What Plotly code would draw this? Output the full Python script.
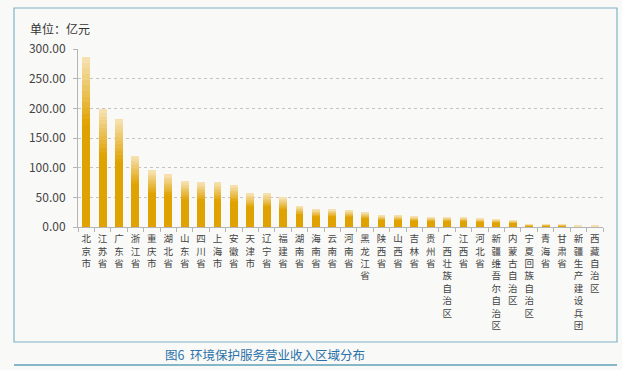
import plotly.graph_objects as go

# ---- data ----
regions = ["北京市", "江苏省", "广东省", "浙江省", "重庆市", "湖北省", "山东省", "四川省",
           "上海市", "安徽省", "天津市", "辽宁省", "福建省", "湖南省", "海南省", "云南省",
           "河南省", "黑龙江省", "陕西省", "山西省", "吉林省", "贵州省", "广西壮族自治区",
           "江西省", "河北省", "新疆维吾尔自治区", "内蒙古自治区", "宁夏回族自治区",
           "青海省", "甘肃省", "新疆生产建设兵团", "西藏自治区"]
revenue = [286.5, 199.5, 182.0, 119.7, 95.5, 88.8, 77.0, 75.3,
           75.3, 70.8, 56.5, 56.3, 50.3, 35.2, 29.7, 29.6,
           28.1, 24.7, 19.7, 19.6, 18.0, 16.3, 16.3,
           16.2, 14.4, 13.0, 11.3, 4.5,
           4.4, 4.3, 1.7, 1.7]
y_ticks = [0, 50, 100, 150, 200, 250, 300]
y_tick_text = ["0.00", "50.00", "100.00", "150.00", "200.00", "250.00", "300.00"]

# ---- styling helpers ----
gold = (224, 162, 0)
light = (247, 227, 182)
solid_frac = 0.60
n_steps = 12

tick_labels = ["<br>".join(list(r)) for r in regions]

fig = go.Figure()
# solid lower part
fig.add_trace(go.Bar(
    x=tick_labels, y=[v * solid_frac for v in revenue],
    marker=dict(color="rgb(%d,%d,%d)" % gold, line=dict(width=0)),
    hoverinfo="skip", showlegend=False))
# gradient upper part
for i in range(n_steps):
    t = (i + 0.5) / n_steps
    c = tuple(round(gold[k] + (light[k] - gold[k]) * t) for k in range(3))
    fig.add_trace(go.Bar(
        x=tick_labels, y=[v * (1 - solid_frac) / n_steps for v in revenue],
        marker=dict(color="rgb(%d,%d,%d)" % c, line=dict(width=0)),
        hoverinfo="skip", showlegend=False))

font_family = "Noto Sans CJK SC, Noto Sans, sans-serif"
label_family = "Liberation Sans, Noto Sans CJK SC, sans-serif"

fig.update_layout(
    width=622, height=370,
    margin=dict(l=78, r=19, t=49, b=143),
    paper_bgcolor="#f9f9f7", plot_bgcolor="#f9f9f7",
    barmode="stack", bargap=0.52,
    font=dict(family=font_family, color="#444444"),
    xaxis=dict(
        type="category", showgrid=False, showline=True, linecolor="#b5b5b5", linewidth=1,
        ticks="outside", ticklen=4, tickcolor="#b5b5b5", tickson="boundaries",
        ticklabelstandoff=3,
        tickfont=dict(size=9.5, color="#444444", family=label_family),
        tickangle=0, fixedrange=True),
    yaxis=dict(
        range=[0, 300], tickvals=y_ticks, ticktext=y_tick_text,
        showgrid=True, gridcolor="#c4c4c4", griddash="3px,3px", gridwidth=1,
        showline=True, linecolor="#b5b5b5", linewidth=1,
        ticks="outside", ticklen=4, tickcolor="#b5b5b5", ticklabelstandoff=5,
        tickfont=dict(size=12, color="#444444", family=font_family),
        zeroline=False, fixedrange=True),
    shapes=[
        dict(type="rect", xref="paper", yref="paper",
             x0=(14 - 78) / 525, x1=(617 - 78) / 525,
             y0=(227 - 342) / 178, y1=(227 - 8) / 178,
             line=dict(color="#7fb3c6", width=1.2), fillcolor="rgba(0,0,0,0)", layer="below"),
        dict(type="line", xref="paper", yref="paper",
             x0=(14 - 78) / 525, x1=(617 - 78) / 525,
             y0=(227 - 365) / 178, y1=(227 - 365) / 178,
             line=dict(color="#5fa0ba", width=1.5)),
    ],
    annotations=[
        dict(text="单位：亿元", xref="paper", yref="paper",
             x=(28 - 78) / 525, y=(227 - 28) / 178, xanchor="left", yanchor="middle",
             showarrow=False, font=dict(size=12, color="#333333", family=font_family)),
        dict(text="图6  环境保护服务营业收入区域分布", xref="paper", yref="paper",
             x=(265 - 78) / 525, y=(227 - 354) / 178, xanchor="center", yanchor="middle",
             showarrow=False, font=dict(size=12.5, color="#2a72aa", family=font_family)),
    ],
)

fig.write_html("out.html", config={"displayModeBar": False},
               post_script="document.body.style.margin='0';document.body.style.overflow='hidden';")
